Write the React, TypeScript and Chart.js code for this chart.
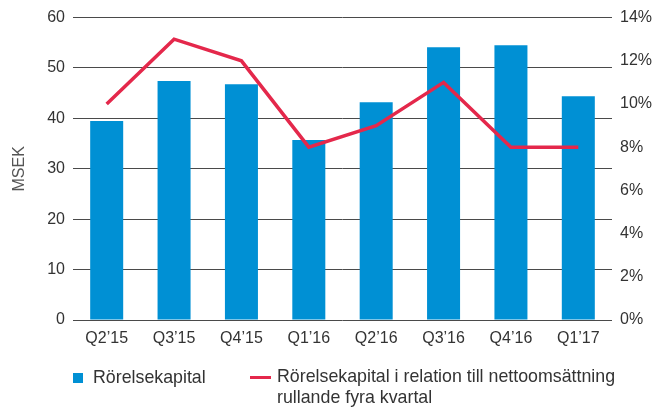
import React, { useEffect, useRef } from "react";
import { Chart, registerables } from "chart.js";

Chart.register(...registerables);

const categories = ["Q2’15", "Q3’15", "Q4’15", "Q1’16", "Q2’16", "Q3’16", "Q4’16", "Q1’17"];
const rorelsekapital = [39.5, 47.4, 46.8, 35.7, 43.2, 54.1, 54.5, 44.4];
const andelProcent = [10.0, 13.0, 12.0, 8.0, 9.0, 11.0, 8.0, 8.0];
const leftTicks = [0, 10, 20, 30, 40, 50, 60];
const rightTicks = [0, 2, 4, 6, 8, 10, 12, 14];

const BAR = "#0090D4";
const RED = "#E4284B";
const TEXT = "#333333";
const FONT = "'Liberation Sans', Arial, sans-serif";

export default function App() {
  const ref = useRef<HTMLCanvasElement | null>(null);
  useEffect(() => {
    if (!ref.current) return;
    const chart = new Chart(ref.current, {
      type: "bar",
      data: {
        labels: categories,
        datasets: [
          {
            type: "line",
            label: "Rörelsekapital i relation till nettoomsättning rullande fyra kvartal",
            data: andelProcent,
            yAxisID: "y1",
            borderColor: RED,
            backgroundColor: RED,
            borderWidth: 3.5,
            pointRadius: 0,
            tension: 0,
            order: 0,
          } as any,
          {
            type: "bar",
            label: "Rörelsekapital",
            data: rorelsekapital,
            yAxisID: "y",
            backgroundColor: BAR,
            categoryPercentage: 1,
            barPercentage: 0.49,
            order: 1,
          } as any,
        ],
      },
      options: {
        animation: false,
        responsive: false,
        maintainAspectRatio: false,
        layout: { padding: { top: 16, left: 0, right: 0, bottom: 0 } },
        plugins: { legend: { display: false }, tooltip: { enabled: false } },
        scales: {
          x: {
            grid: { display: false, drawTicks: false },
            border: { display: false },
            ticks: { color: TEXT, font: { family: FONT, size: 16 }, padding: 9 },
            afterFit: (s: any) => {
              s.height = 88;
            },
          },
          y: {
            position: "left",
            min: 0,
            max: 60,
            afterBuildTicks: (s: any) => {
              s.ticks = leftTicks.map((v) => ({ value: v }));
            },
            grid: { color: "#4a4a4a", lineWidth: 1, drawTicks: false },
            border: { display: false },
            ticks: { color: TEXT, font: { family: FONT, size: 16 }, padding: 8 },
            title: {
              display: true,
              text: "MSEK",
              color: "#555555",
              font: { family: FONT, size: 16 },
              padding: { top: 10, bottom: 0 },
            },
            afterFit: (s: any) => {
              s.width = 73;
            },
          },
          y1: {
            position: "right",
            min: 0,
            max: 14,
            afterBuildTicks: (s: any) => {
              s.ticks = rightTicks.map((v) => ({ value: v }));
            },
            grid: { display: false, drawTicks: false },
            border: { display: false },
            ticks: {
              color: TEXT,
              font: { family: FONT, size: 16 },
              padding: 8,
              callback: (v: any) => v + "%",
            },
            afterFit: (s: any) => {
              s.width = 42;
            },
          },
        },
      },
    });
    return () => chart.destroy();
  }, []);

  const textStyle: React.CSSProperties = {
    position: "absolute",
    fontFamily: FONT,
    fontSize: 17.8,
    lineHeight: "21px",
    color: TEXT,
    whiteSpace: "nowrap",
  };

  return (
    <div style={{ position: "absolute", left: 0, top: 0, width: 654, height: 408, background: "#fff" }}>
      <canvas ref={ref} width={654} height={408} style={{ display: "block", width: 654, height: 408 }} />
      <div style={{ position: "absolute", left: 73, top: 373, width: 10, height: 10, background: BAR }} />
      <div style={{ ...textStyle, left: 93, top: 367 }}>Rörelsekapital</div>
      <div style={{ position: "absolute", left: 250, top: 376, width: 21, height: 3, background: RED }} />
      <div style={{ ...textStyle, left: 277, top: 366 }}>
        Rörelsekapital i relation till nettoomsättning
        <br />
        rullande fyra kvartal
      </div>
    </div>
  );
}
